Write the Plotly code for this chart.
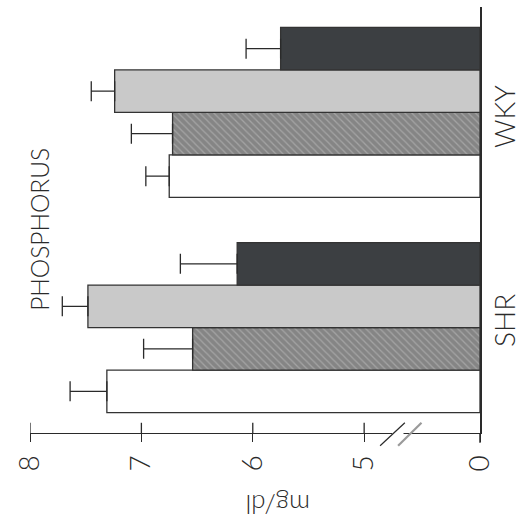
import plotly.graph_objects as go

# ---- data ----
groups = ["SHR", "WKY"]
series_names = ["Group A", "Group B", "Group C", "Group D"]
values_A = [7.31, 6.75]   # white
values_B = [6.54, 6.72]   # hatched
values_C = [7.48, 7.24]   # light gray
values_D = [6.14, 5.75]   # dark
err_A = [0.33, 0.21]
err_B = [0.44, 0.37]
err_C = [0.23, 0.21]
err_D = [0.51, 0.31]
tick_values = [5, 6, 7, 8]
tick_labels = ["5", "6", "7", "8"]
zero_label = "0"
BREAK_ZERO = 3.96   # where the broken axis puts the 0 baseline

FONT = "Lato, Roboto, Liberation Sans, sans-serif"
INK = "#2a2a2a"

styles = [
    dict(color="#ffffff", pattern=None),
    dict(color="#858585", pattern=dict(shape="\\", fgcolor="#c4c4c4", bgcolor="#858585", size=5, solidity=0.25)),
    dict(color="#c9c9c9", pattern=None),
    dict(color="#3c3f42", pattern=None),
]
all_vals = [values_A, values_B, values_C, values_D]
all_errs = [err_A, err_B, err_C, err_D]

fig = go.Figure()
for name, vals, errs, st in zip(series_names, all_vals, all_errs, styles):
    marker = dict(color=st["color"], line=dict(color="#333333", width=1.3))
    if st["pattern"]:
        marker["pattern"] = st["pattern"]
    fig.add_trace(go.Bar(
        y=groups, x=[v - BREAK_ZERO for v in vals], base=BREAK_ZERO,
        orientation="h", name=name, marker=marker,
        error_x=dict(type="data", array=errs, arrayminus=[0] * len(errs),
                     symmetric=False, color=INK, thickness=1.3, width=10),
        showlegend=False,
    ))

fig.update_layout(
    width=521, height=523,
    margin=dict(l=30, r=41, t=7, b=90),
    paper_bgcolor="white", plot_bgcolor="white",
    barmode="group", bargap=0.21, bargroupgap=0,
    xaxis=dict(range=[8, BREAK_ZERO], tickmode="array",
               tickvals=[BREAK_ZERO] + tick_values, ticktext=[zero_label] + tick_labels,
               tickangle=-90, ticks="outside", ticklen=8, tickwidth=1.3, tickcolor=INK,
               showline=True, linecolor=INK, linewidth=1.3, showgrid=False, zeroline=False,
               ticklabelstandoff=2,
               tickfont=dict(family=FONT, size=28, color=INK, weight=300)),
    yaxis=dict(range=[-0.49, 1.49], showticklabels=False, ticks="", showgrid=False,
               zeroline=False, showline=True, side="right", linecolor=INK, linewidth=1.5),
)

# inside half of the crossing tick marks
for tv in tick_values:
    fig.add_shape(type="line", xref="x", yref="paper", x0=tv, x1=tv, y0=0, y1=0.024,
                  line=dict(color=INK, width=1.3))

# axis break
fig.add_shape(type="rect", xref="paper", yref="paper", x0=0.805, x1=0.83, y0=-0.006, y1=0.006,
              fillcolor="white", line=dict(width=0), layer="above")
fig.add_shape(type="line", xref="paper", yref="paper", x0=0.778, x1=0.833, y0=-0.03, y1=0.024,
              line=dict(color=INK, width=1.2))
fig.add_shape(type="line", xref="paper", yref="paper", x0=0.818, x1=0.87, y0=-0.03, y1=0.024,
              line=dict(color="#9a9a9a", width=2.2))
# baseline extends slightly below axis
fig.add_shape(type="line", xref="paper", yref="paper", x0=1.0, x1=1.0, y0=0, y1=-0.023,
              line=dict(color=INK, width=1.5))

ann = dict(showarrow=False, xanchor="center", yanchor="middle",
           font=dict(family=FONT, size=28, color=INK, weight=300))
fig.add_annotation(text="PHOSPHORUS", xref="paper", yref="paper", x=0.022, y=0.479,
                   textangle=-90, showarrow=False, xanchor="center", yanchor="middle",
                   font=dict(family=FONT, size=24.5, color=INK, weight=300))
fig.add_annotation(text=groups[0], xref="paper", yref="paper", x=1.053, y=0.265,
                   textangle=-90, **ann)
fig.add_annotation(text=groups[1], xref="paper", yref="paper", x=1.053, y=0.744,
                   textangle=-90, **ann)
fig.add_annotation(text="mg/dl", xref="paper", yref="paper", x=0.551, y=-0.169,
                   textangle=180, showarrow=False, xanchor="center", yanchor="middle",
                   font=dict(family=FONT, size=26, color=INK, weight=300))

fig.write_html("out.html")
